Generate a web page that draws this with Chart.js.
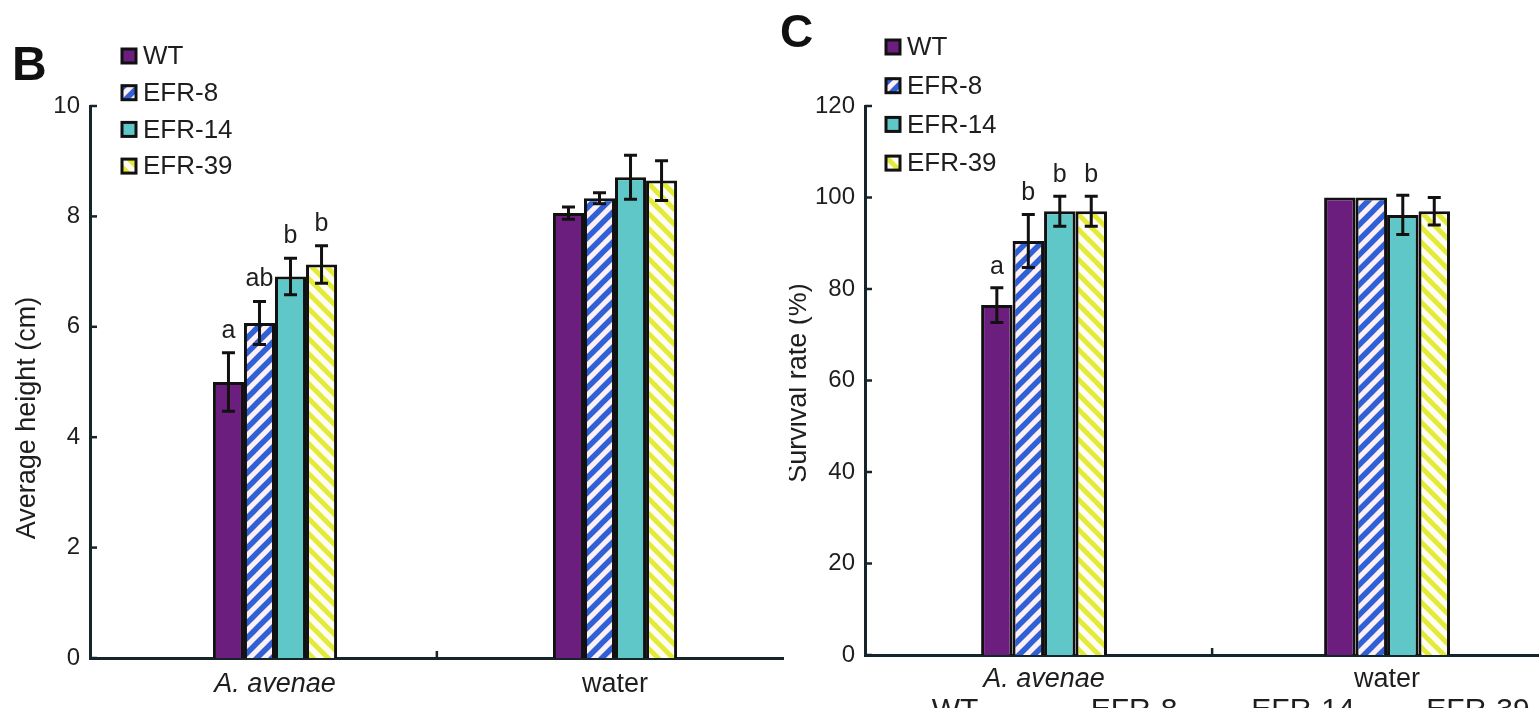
<!DOCTYPE html>
<html><head><meta charset="utf-8">
<script src="https://cdn.jsdelivr.net/npm/chart.js@4.4.1/dist/chart.umd.min.js"></script>
<style>
html,body{margin:0;padding:0;background:#fff;width:1539px;height:708px;overflow:hidden;}
#wrapB{position:absolute;left:0;top:0;width:784px;height:708px;}
#wrapC{position:absolute;left:789px;top:0;width:750px;height:708px;background:#fff;}
.panel{position:absolute;font-family:'Liberation Sans',Arial,sans-serif;font-weight:bold;color:#111;}
</style></head><body>
<div id="wrapB"><canvas id="chartB" width="784" height="708"></canvas></div>
<div id="wrapC"><canvas id="chartC" width="750" height="708"></canvas></div>
<div class="panel" style="left:12px;top:36px;font-size:48px">B</div>
<div class="panel" style="left:780px;top:4px;font-size:46px">C</div>
<script>
// ---------- data ----------
const categories = ['A. avenae', 'water'];
const seriesNames = ['WT', 'EFR-8', 'EFR-14', 'EFR-39'];

// Panel B: average height (cm)
const heightWT    = [5.00, 8.06];
const heightEFR8  = [6.07, 8.33];
const heightEFR14 = [6.91, 8.71];
const heightEFR39 = [7.13, 8.65];
const heightErrWT    = [0.53, 0.11];
const heightErrEFR8  = [0.39, 0.10];
const heightErrEFR14 = [0.33, 0.40];
const heightErrEFR39 = [0.34, 0.36];
const heightLettersWT    = ['a', ''];
const heightLettersEFR8  = ['ab', ''];
const heightLettersEFR14 = ['b', ''];
const heightLettersEFR39 = ['b', ''];
const heightTicks = [0, 2, 4, 6, 8, 10];

// Panel C: survival rate (%)
const survWT    = [76.5, 100];
const survEFR8  = [90.5, 100];
const survEFR14 = [97.0, 96.2];
const survEFR39 = [97.0, 97.0];
const survErrWT    = [3.8, 0];
const survErrEFR8  = [5.8, 0];
const survErrEFR14 = [3.3, 4.3];
const survErrEFR39 = [3.3, 3.0];
const survLettersWT    = ['a', ''];
const survLettersEFR8  = ['b', ''];
const survLettersEFR14 = ['b', ''];
const survLettersEFR39 = ['b', ''];
const survTicks = [0, 20, 40, 60, 80, 100, 120];

// ---------- styling ----------
const FONT = "'Liberation Sans', Arial, sans-serif";
const AXIS = '#15252a';
const INK = '#1e1e1e';

function stripePattern(ctx, color, bg, dir, lw) {
  const s = 15;
  const c = document.createElement('canvas');
  c.width = s; c.height = s;
  const g = c.getContext('2d');
  g.fillStyle = bg; g.fillRect(0, 0, s, s);
  g.strokeStyle = color; g.lineWidth = lw;
  g.beginPath();
  if (dir === '/') {
    for (const k of [0, s, 2 * s]) { g.moveTo(k + 3, -3); g.lineTo(k - s - 3, s + 3); }
  } else {
    for (const k of [-s, 0, s]) { g.moveTo(k - 3, -3); g.lineTo(k + s + 3, s + 3); }
  }
  g.stroke();
  return ctx.createPattern(c, 'repeat');
}

const overlay = {
  id: 'overlay',
  afterDraw(chart) {
    const o = chart.options.plugins.overlay;
    const ctx = chart.ctx;
    const xs = chart.scales.x, ys = chart.scales.y;
    const area = chart.chartArea;
    ctx.save();
    // inward tick marks on y axis
    ctx.strokeStyle = AXIS; ctx.lineWidth = 2.5;
    ys.ticks.forEach(t => {
      const y = ys.getPixelForValue(t.value);
      ctx.beginPath(); ctx.moveTo(area.left, y); ctx.lineTo(area.left + 7, y); ctx.stroke();
    });
    // middle x tick
    const xm = xs.getPixelForValue(o.divider);
    ctx.beginPath(); ctx.moveTo(xm, area.bottom); ctx.lineTo(xm, area.bottom - 7); ctx.stroke();

    // error bars and letters
    chart.data.datasets.forEach((ds, i) => {
      const meta = chart.getDatasetMeta(i);
      meta.data.forEach((el, j) => {
        const v = ds.data[j].y, e = ds.errors[j];
        let top = el.y;
        if (e > 0) {
          top = ys.getPixelForValue(v + e);
          const bot = ys.getPixelForValue(v - e);
          ctx.strokeStyle = '#111'; ctx.lineWidth = 3;
          ctx.beginPath();
          ctx.moveTo(el.x, top); ctx.lineTo(el.x, bot);
          ctx.moveTo(el.x - 6.5, top); ctx.lineTo(el.x + 6.5, top);
          ctx.moveTo(el.x - 6.5, bot); ctx.lineTo(el.x + 6.5, bot);
          ctx.stroke();
        }
        const L = ds.letters[j];
        if (L) {
          ctx.fillStyle = INK; ctx.font = '25px ' + FONT;
          ctx.textAlign = 'center'; ctx.textBaseline = 'alphabetic';
          ctx.fillText(L, el.x, top - o.letterGap);
        }
      });
    });

    // legend
    chart.data.datasets.forEach((ds, i) => {
      const cy = o.legendY + i * o.legendStep;
      ctx.fillStyle = ds.backgroundColor;
      ctx.fillRect(o.legendX, cy - 8, 16, 16);
      ctx.strokeStyle = '#111'; ctx.lineWidth = 3;
      ctx.strokeRect(o.legendX + 1, cy - 7, 14, 14);
      ctx.fillStyle = INK; ctx.font = '26px ' + FONT;
      ctx.textAlign = 'left'; ctx.textBaseline = 'middle';
      ctx.fillText(ds.label, o.legendX + 22, cy + 1);
    });

    // y title
    ctx.save();
    ctx.translate(o.titleX, o.titleY);
    ctx.rotate(-Math.PI / 2);
    ctx.fillStyle = INK; ctx.font = '27px ' + FONT;
    ctx.textAlign = 'center'; ctx.textBaseline = 'middle';
    ctx.fillText(o.title, 0, 0);
    ctx.restore();

    // cut-off labels at bottom
    if (o.footer) {
      ctx.fillStyle = INK; ctx.font = '30px ' + FONT;
      ctx.textAlign = 'center'; ctx.textBaseline = 'alphabetic';
      seriesNames.forEach((n, i) => ctx.fillText(n, o.footer[i], 719));
    }
    ctx.restore();
  }
};

function makeChart(id, cfg) {
  const ctx = document.getElementById(id).getContext('2d');
  const colors = [
    '#6c1e7e',
    stripePattern(ctx, '#3060d6', '#fcf0f4', '/', 5.5),
    '#60c7c8',
    stripePattern(ctx, '#e3eb38', '#fffdf3', '\\', 5)
  ];
  const datasets = cfg.series.map((vals, i) => ({
    label: seriesNames[i],
    data: vals.map((v, j) => ({ x: j + 1, y: v })),
    errors: cfg.errors[i],
    letters: cfg.letters[i],
    backgroundColor: colors[i],
    borderColor: '#111',
    borderWidth: 3,
    borderSkipped: 'bottom',
    categoryPercentage: cfg.catPct,
    barPercentage: 1
  }));
  return new Chart(ctx, {
    type: 'bar',
    data: { datasets },
    options: {
      responsive: false,
      animation: false,
      events: [],
      layout: { padding: { top: 106, left: 0, right: 0, bottom: 0 } },
      plugins: {
        legend: { display: false },
        tooltip: { enabled: false },
        overlay: cfg.overlay
      },
      scales: {
        x: {
          type: 'linear',
          offset: false,
          min: cfg.xmin, max: cfg.xmax,
          grid: { display: false, drawTicks: false, offset: false },
          border: { color: AXIS, width: 3 },
          afterBuildTicks: s => { s.ticks = categories.map((c, i) => ({ value: i + 1 })); },
          ticks: {
            autoSkip: false, maxRotation: 0, padding: cfg.xPad, color: INK,
            callback: v => categories[Math.round(v) - 1] || '',
            font: c => ({ family: FONT, size: 27, style: c.index === 0 ? 'italic' : 'normal' })
          },
          afterFit: s => { s.height = cfg.xh; }
        },
        y: {
          min: 0, max: cfg.ticks[cfg.ticks.length - 1],
          grid: { display: false, drawTicks: false },
          border: { color: AXIS, width: 3 },
          afterBuildTicks: s => { s.ticks = cfg.ticks.map(v => ({ value: v })); },
          ticks: { padding: 10, color: INK, font: { family: FONT, size: cfg.tickSize } },
          afterFit: s => { s.width = cfg.yw; }
        }
      }
    },
    plugins: [overlay]
  });
}

makeChart('chartB', {
  series: [heightWT, heightEFR8, heightEFR14, heightEFR39],
  errors: [heightErrWT, heightErrEFR8, heightErrEFR14, heightErrEFR39],
  letters: [heightLettersWT, heightLettersEFR8, heightLettersEFR14, heightLettersEFR39],
  ticks: heightTicks,
  tickSize: 24,
  yw: 90, xh: 50, xPad: 10,
  xmin: 0.4559, xmax: 2.497, catPct: 0.365,
  overlay: {
    divider: 1.476, letterGap: 15,
    legendX: 121, legendY: 56, legendStep: 36.7,
    title: 'Average height (cm)', titleX: 28, titleY: 418
  }
});

makeChart('chartC', {
  series: [survWT, survEFR8, survEFR14, survEFR39],
  errors: [survErrWT, survErrEFR8, survErrEFR14, survErrEFR39],
  letters: [survLettersWT, survLettersEFR8, survLettersEFR14, survLettersEFR39],
  ticks: survTicks,
  tickSize: 24,
  yw: 76, xh: 53, xPad: 8,
  xmin: 0.478, xmax: 2.443, catPct: 0.367,
  overlay: {
    divider: 1.49, letterGap: 14,
    legendX: 96, legendY: 47, legendStep: 38.7,
    title: 'Survival rate (%)', titleX: 10, titleY: 383,
    footer: [166, 345, 514, 689]
  }
});
</script>
</body></html>
